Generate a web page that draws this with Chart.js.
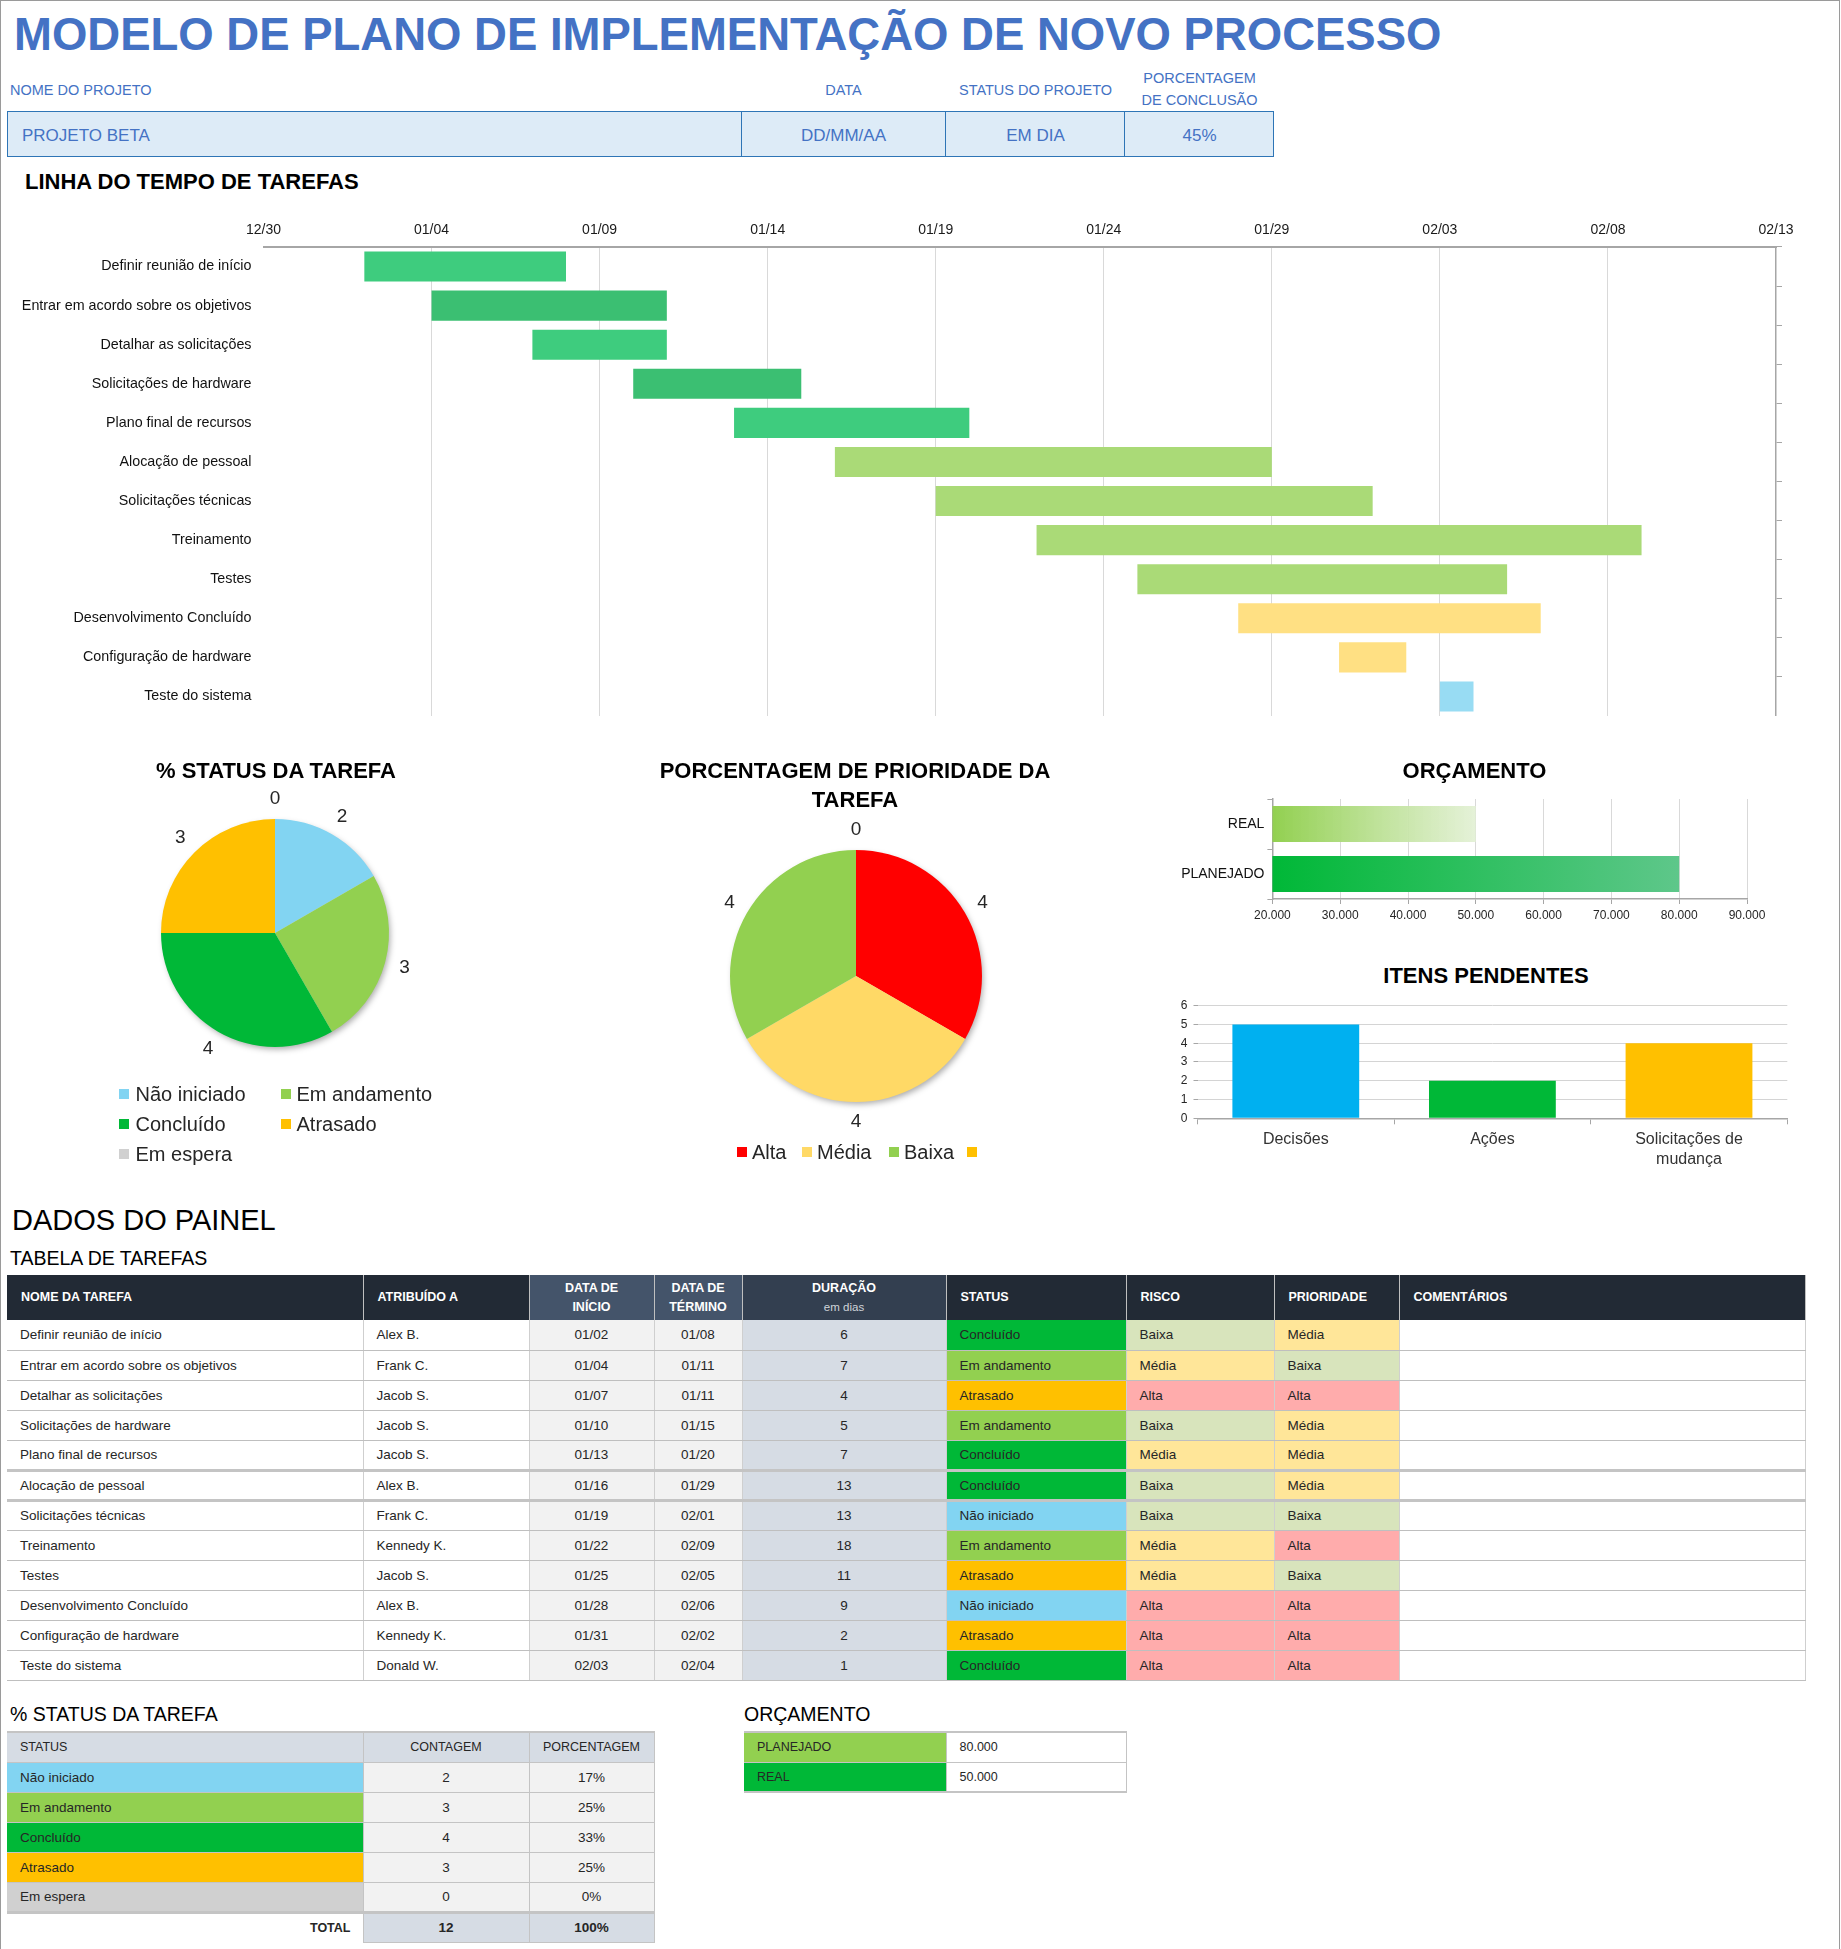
<!DOCTYPE html>
<html lang="pt">
<head>
<meta charset="utf-8">
<script src="https://cdn.jsdelivr.net/npm/chart.js@4.4.1/dist/chart.umd.min.js"></script>
<style>
  html,body{margin:0;padding:0;background:#fff;}
  body{width:1841px;height:1949px;position:relative;overflow:hidden;font-family:"Liberation Sans",Arial,sans-serif;}
  .frame{position:absolute;left:0;top:0;width:1838px;height:1960px;border:1px solid #9a9a9a;border-bottom:none;}
  .t{position:absolute;line-height:1;white-space:nowrap;}
  canvas{position:absolute;}
  table{position:absolute;border-collapse:collapse;table-layout:fixed;font-family:"Liberation Sans",Arial,sans-serif;}
  td,th{box-sizing:border-box;overflow:hidden;white-space:nowrap;}
  #taskTable th{background:#222A35;color:#fff;font-weight:bold;font-size:12.5px;text-align:left;padding:0 0 0 14px;height:45px;border-right:1px solid #BFBFBF;line-height:1.45;}
  #taskTable th.c{text-align:center;padding:0;}
  #taskTable td{height:30px;font-size:13.5px;color:#262626;padding:0 0 0 13px;border-bottom:1px solid #BFBFBF;border-right:1px solid #CFCFCF;}
  #taskTable td.c{text-align:center;padding:0;}
  #taskTable tr.thick td{border-bottom:3px solid #C4C4C4;}
  #statTable td{height:30px;font-size:13.5px;color:#262626;border-bottom:1px solid #C4C4C4;border-right:1px solid #C4C4C4;padding:0 0 0 13px;}
  #statTable td.c{text-align:center;padding:0;}
  #budTable td{height:30px;font-size:13.5px;color:#262626;border-bottom:1px solid #C4C4C4;border-right:1px solid #C4C4C4;padding:0 0 0 13px;}
  .box{position:absolute;left:7px;top:111px;width:1267px;height:46px;box-sizing:border-box;background:#DDEBF7;border:1.5px solid #2E75B6;}
  .div{position:absolute;top:111px;width:1px;height:46px;background:#2E75B6;}
  .lg{position:absolute;width:10px;height:10px;}
</style>
</head>
<body>
<div class="frame"></div>

<canvas id="gantt" width="1841" height="516" style="left:0;top:200px;"></canvas>
<canvas id="pieStatus" width="348" height="348" style="left:101px;top:759px;"></canvas>
<canvas id="piePrio" width="372" height="372" style="left:670px;top:790px;"></canvas>
<canvas id="budget" width="640" height="150" style="left:1150px;top:790px;"></canvas>
<canvas id="pending" width="660" height="190" style="left:1150px;top:990px;"></canvas>

<div class="box"></div>
<div class="div" style="left:741px"></div>
<div class="div" style="left:945px"></div>
<div class="div" style="left:1124px"></div>

<div id="texts"></div>
<table id="taskTable" style="left:7px;top:1275px;width:1798px;"></table>
<table id="statTable" style="left:7px;top:1731px;width:647px;"></table>
<table id="budTable" style="left:744px;top:1731px;width:382px;"></table>

<script>
// ---------------- DATA ----------------
const tasks = ['Definir reunião de início','Entrar em acordo sobre os objetivos','Detalhar as solicitações','Solicitações de hardware','Plano final de recursos','Alocação de pessoal','Solicitações técnicas','Treinamento','Testes','Desenvolvimento Concluído','Configuração de hardware','Teste do sistema'];
const assigned = ['Alex B.','Frank C.','Jacob S.','Jacob S.','Jacob S.','Alex B.','Frank C.','Kennedy K.','Jacob S.','Alex B.','Kennedy K.','Donald W.'];
const startDates = ['01/02','01/04','01/07','01/10','01/13','01/16','01/19','01/22','01/25','01/28','01/31','02/03'];
const endDates = ['01/08','01/11','01/11','01/15','01/20','01/29','02/01','02/09','02/05','02/06','02/02','02/04'];
const durations = [6,7,4,5,7,13,13,18,11,9,2,1];
const taskStatus = ['Concluído','Em andamento','Atrasado','Em andamento','Concluído','Concluído','Não iniciado','Em andamento','Atrasado','Não iniciado','Atrasado','Concluído'];
const taskRisk = ['Baixa','Média','Alta','Baixa','Média','Baixa','Baixa','Média','Média','Alta','Alta','Alta'];
const taskPriority = ['Média','Baixa','Alta','Média','Média','Média','Baixa','Alta','Baixa','Alta','Alta','Alta'];
const ganttColors = ['#3ECC7E','#3BBF72','#3ECC7E','#3BBF72','#3ECC7E','#AADA77','#AADA77','#AADA77','#AADA77','#FFE083','#FFE083','#98DCF3'];
const timelineStart = '12/30';
const timelineEndDays = 45;

const statusLabels = ['Não iniciado','Em andamento','Concluído','Atrasado','Em espera'];
const statusCounts = [2,3,4,3,0];
const statusPct = ['17%','25%','33%','25%','0%'];
const statusColors = ['#82D4F2','#92D050','#00B837','#FFC000','#D0D0D0'];
const statusTotal = ['12','100%'];

const prioLabels = ['Alta','Média','Baixa',''];
const prioCounts = [4,4,4,0];
const prioColors = ['#FF0000','#FFD966','#92D050','#FFC000'];

const budgetLabels = ['REAL','PLANEJADO'];
const budgetValues = [50000,80000];
const budgetGradFrom = ['#92D050','#00B837'];
const budgetGradTo = ['rgba(226,240,212,0.9)','#5EC78A'];
const budgetTableLabels = ['PLANEJADO','REAL'];
const budgetTableValues = ['80.000','50.000'];
const budgetTableColors = ['#92D050','#00B837'];

const pendingLabels = ['Decisões','Ações',['Solicitações de','mudança']];
const pendingValues = [5,2,4];
const pendingColors = ['#00B0F0','#00B837','#FFC000'];

const statusCellColor = {'Concluído':'#00B837','Em andamento':'#92D050','Atrasado':'#FFC000','Não iniciado':'#82D4F2','Em espera':'#D0D0D0'};
const levelColor = {'Baixa':'#D8E4BC','Média':'#FFE699','Alta':'#FFACAC'};

// ---------------- helpers ----------------
const FONT = '"Liberation Sans", Arial, sans-serif';
Chart.defaults.font.family = FONT;
Chart.defaults.animation = false;
function mdToUTC(md){ const [m,d]=md.split('/').map(Number); const y = m===12?2022:2023; return Date.UTC(y,m-1,d); }
const baseUTC = mdToUTC(timelineStart);
function dayIndex(md){ return Math.round((mdToUTC(md)-baseUTC)/864e5); }
function dayLabel(v){ const dt=new Date(baseUTC+v*864e5); return String(dt.getUTCMonth()+1).padStart(2,'0')+'/'+String(dt.getUTCDate()).padStart(2,'0'); }

const texts = document.getElementById('texts');
function txt(s,x,yc,fs,opt={}){
  const e=document.createElement('div'); e.className='t'; e.textContent=s;
  e.style.fontSize=fs+'px'; e.style.left=x+'px'; e.style.top=(yc-0.5*fs)+'px';
  e.style.fontWeight=opt.bold?'bold':'normal'; e.style.color=opt.color||'#000';
  if(opt.align==='center') e.style.transform='translateX(-50%)';
  if(opt.align==='right') e.style.transform='translateX(-100%)';
  texts.appendChild(e); return e;
}
function box(x,yc,color){ const e=document.createElement('div'); e.className='lg'; e.style.left=x+'px'; e.style.top=(yc-5)+'px'; e.style.background=color; texts.appendChild(e); }

// ---------------- header texts ----------------
const BLUE='#4472C4';
txt('MODELO DE PLANO DE IMPLEMENTAÇÃO DE NOVO PROCESSO',14,35,45.5,{bold:true,color:BLUE});
txt('NOME DO PROJETO',10,90,14.5,{color:BLUE});
txt('DATA',843.5,90,14.5,{color:BLUE,align:'center'});
txt('STATUS DO PROJETO',1035.5,90,14.5,{color:BLUE,align:'center'});
txt('PORCENTAGEM',1199.5,78,14.5,{color:BLUE,align:'center'});
txt('DE CONCLUSÃO',1199.5,100,14.5,{color:BLUE,align:'center'});
txt('PROJETO BETA',22,135,17,{color:BLUE});
txt('DD/MM/AA',843.5,135,17,{color:BLUE,align:'center'});
txt('EM DIA',1035.5,135,17,{color:BLUE,align:'center'});
txt('45%',1199.5,135,17,{color:BLUE,align:'center'});

txt('LINHA DO TEMPO DE TAREFAS',25,181.5,22,{bold:true});
txt('% STATUS DA TAREFA',276,771,22,{bold:true,align:'center'});
txt('PORCENTAGEM DE PRIORIDADE DA',855,771,22,{bold:true,align:'center'});
txt('TAREFA',855,800,22,{bold:true,align:'center'});
txt('ORÇAMENTO',1474.5,771,22,{bold:true,align:'center'});
txt('ITENS PENDENTES',1486,976,22,{bold:true,align:'center'});

// legends
const lgPos1 = [[119,135.5,1094],[281,296.5,1094],[119,135.5,1124],[281,296.5,1124],[119,135.5,1154]];
statusLabels.forEach((l,i)=>{ const p=lgPos1[i]; box(p[0],p[2],statusColors[i]); txt(l,p[1],p[2],20,{color:'#262626'}); });
const lgPos2 = [[737,752],[802,817],[889,904],[967,982]];
prioLabels.forEach((l,i)=>{ const p=lgPos2[i]; box(p[0],1152,prioColors[i]); if(l) txt(l,p[1],1152,20,{color:'#262626'}); });

txt('DADOS DO PAINEL',12,1220,29);
txt('TABELA DE TAREFAS',10,1259,19.5);
txt('% STATUS DA TAREFA',10,1715,19.5);
txt('ORÇAMENTO',744,1715,19.5);

// ---------------- plugins ----------------
const outLabels = {id:'outLabels', afterDatasetsDraw(chart,args,opts){
  const ctx=chart.ctx, meta=chart.getDatasetMeta(0), ds=chart.data.datasets[0];
  ctx.save(); ctx.font='19px '+FONT; ctx.fillStyle='#262626'; ctx.textAlign='center'; ctx.textBaseline='middle';
  meta.data.forEach((arc,i)=>{ const p=arc.getProps(['x','y','startAngle','endAngle','outerRadius']);
    const a=(p.startAngle+p.endAngle)/2, r=p.outerRadius+(opts.offset||20);
    ctx.fillText(String(ds.data[i]), p.x+Math.cos(a)*r, p.y+Math.sin(a)*r); });
  ctx.restore(); }};
const pieShadow = {id:'pieShadow', beforeDatasetsDraw(chart){
  const ctx=chart.ctx, arc=chart.getDatasetMeta(0).data[0]; if(!arc) return;
  const p=arc.getProps(['x','y','outerRadius']);
  ctx.save(); ctx.shadowColor='rgba(0,0,0,0.35)'; ctx.shadowBlur=6; ctx.shadowOffsetX=2; ctx.shadowOffsetY=3;
  ctx.beginPath(); ctx.arc(p.x,p.y,p.outerRadius-1,0,Math.PI*2); ctx.fillStyle='#ddd'; ctx.fill(); ctx.restore(); }};

// ---------------- Gantt ----------------
new Chart(document.getElementById('gantt'),{
  type:'bar',
  data:{labels:tasks,datasets:[{data:tasks.map((t,i)=>[dayIndex(startDates[i]),dayIndex(endDates[i])]),backgroundColor:ganttColors,borderWidth:0,barPercentage:0.77,categoryPercentage:1}]},
  options:{indexAxis:'y',responsive:false,animation:false,
    plugins:{legend:{display:false},tooltip:{enabled:false}},
    layout:{padding:{left:0,right:57,top:0,bottom:0}},
    scales:{
      x:{type:'linear',position:'top',min:0,max:timelineEndDays,
        ticks:{stepSize:5,callback:v=>dayLabel(v),font:{size:14},color:'#1a1a1a',padding:8},
        grid:{color:c=>(c.index===0||c.tick&&c.tick.value===timelineEndDays)?'rgba(0,0,0,0)':'#D9D9D9',drawTicks:false,lineWidth:1},
        border:{color:'#A6A6A6',width:2},
        afterFit:s=>{s.height=47;}},
      y:{position:'left',ticks:{font:{size:14.3},color:'#111',padding:4},grid:{display:false},border:{display:false},
        afterFit:s=>{s.width=263.5; s.paddingTop=0; s.paddingBottom=0;}},
      y2:{type:'category',position:'right',labels:tasks,ticks:{display:false},
        grid:{drawOnChartArea:false,offset:true,tickLength:6,color:'#A6A6A6'},border:{color:'#A6A6A6',width:1.5},
        afterFit:s=>{s.width=8; s.paddingTop=0; s.paddingBottom=0;}}
    }}
});

// ---------------- Pies ----------------
new Chart(document.getElementById('pieStatus'),{
  type:'pie',
  data:{labels:statusLabels,datasets:[{data:statusCounts,backgroundColor:statusColors,borderWidth:0}]},
  options:{responsive:false,animation:false,layout:{padding:60},plugins:{legend:{display:false},tooltip:{enabled:false},outLabels:{offset:20}}},
  plugins:[pieShadow,outLabels]
});
new Chart(document.getElementById('piePrio'),{
  type:'pie',
  data:{labels:prioLabels,datasets:[{data:prioCounts,backgroundColor:prioColors,borderWidth:0}]},
  options:{responsive:false,animation:false,layout:{padding:60},plugins:{legend:{display:false},tooltip:{enabled:false},outLabels:{offset:20}}},
  plugins:[pieShadow,outLabels]
});

// ---------------- Budget ----------------
function fmtThousands(v){ return String(v).replace(/\B(?=(\d{3})+(?!\d))/g,'.'); }
new Chart(document.getElementById('budget'),{
  type:'bar',
  data:{labels:budgetLabels,datasets:[{data:budgetValues,borderWidth:0,barPercentage:0.72,categoryPercentage:1,
    backgroundColor:c=>{ const ch=c.chart, xs=ch.scales.x; if(!ch.chartArea||!xs) return budgetGradFrom[c.dataIndex];
      const x0=xs.getPixelForValue(xs.min), x1=xs.getPixelForValue(budgetValues[c.dataIndex]);
      const g=ch.ctx.createLinearGradient(x0,0,x1,0); g.addColorStop(0,budgetGradFrom[c.dataIndex]); g.addColorStop(1,budgetGradTo[c.dataIndex]); return g; }}]},
  options:{indexAxis:'y',responsive:false,animation:false,
    plugins:{legend:{display:false},tooltip:{enabled:false}},
    layout:{padding:{left:0,right:43,top:9,bottom:0}},
    scales:{
      x:{min:20000,max:90000,ticks:{stepSize:10000,callback:v=>fmtThousands(v),font:{size:12},color:'#262626',padding:4},
        grid:{color:'#D9D9D9',tickLength:5,tickColor:'#A6A6A6'},border:{color:'#A6A6A6',width:1.5},afterFit:s=>{s.height=41;}},
      y:{ticks:{font:{size:14},color:'#111',padding:3},grid:{drawOnChartArea:false,offset:true,tickLength:5,color:'#A6A6A6'},
        border:{color:'#A6A6A6',width:1.5},afterFit:s=>{s.width=122.4; s.paddingTop=0; s.paddingBottom=0;}}
    }}
});

// ---------------- Pending ----------------
new Chart(document.getElementById('pending'),{
  type:'bar',
  data:{labels:pendingLabels,datasets:[{data:pendingValues,backgroundColor:pendingColors,borderWidth:0,barPercentage:0.645,categoryPercentage:1}]},
  options:{responsive:false,animation:false,
    plugins:{legend:{display:false},tooltip:{enabled:false}},
    layout:{padding:{left:0,right:22.7,top:15.7,bottom:0}},
    scales:{
      x:{ticks:{font:{size:16,lineHeight:1.25},color:'#333',padding:5},grid:{drawOnChartArea:false,offset:true,tickLength:6,color:'#A6A6A6'},
        border:{color:'#A6A6A6',width:1.5},afterFit:s=>{s.height=61.7;}},
      y:{min:0,max:6,ticks:{stepSize:1,font:{size:12},color:'#262626',padding:6},grid:{color:'#D4D4D4',tickLength:4,tickColor:'#A6A6A6'},
        border:{display:false},afterFit:s=>{s.width=47.5;}}
    }}
});

// ---------------- Task table ----------------
const colW=[356,166,125,88,204,180,148,125,406];
const tt=document.getElementById('taskTable');
let h='<colgroup>'+colW.map(w=>'<col style="width:'+w+'px">').join('')+'</colgroup>';
h+='<tr><th>NOME DA TAREFA</th><th>ATRIBUÍDO A</th><th class="c" style="background:#44546A">DATA DE<br>INÍCIO</th><th class="c" style="background:#44546A">DATA DE<br>TÉRMINO</th><th class="c" style="background:#333F50">DURAÇÃO<br><span style="font-weight:normal;font-size:11.5px;color:#D0D4DA">em dias</span></th><th>STATUS</th><th>RISCO</th><th>PRIORIDADE</th><th>COMENTÁRIOS</th></tr>';
tasks.forEach((t,i)=>{
  h+='<tr'+((i===4||i===5)?' class="thick"':'')+'><td>'+t+'</td><td>'+assigned[i]+'</td>'+
   '<td class="c" style="background:#F2F2F2">'+startDates[i]+'</td><td class="c" style="background:#F2F2F2">'+endDates[i]+'</td>'+
   '<td class="c" style="background:#D6DCE4">'+durations[i]+'</td>'+
   '<td style="background:'+statusCellColor[taskStatus[i]]+'">'+taskStatus[i]+'</td>'+
   '<td style="background:'+levelColor[taskRisk[i]]+'">'+taskRisk[i]+'</td>'+
   '<td style="background:'+levelColor[taskPriority[i]]+'">'+taskPriority[i]+'</td><td></td></tr>';
});
tt.innerHTML=h;

// ---------------- Status table ----------------
const st=document.getElementById('statTable');
let s='<colgroup><col style="width:356px"><col style="width:166px"><col style="width:125px"></colgroup>';
s+='<tr><td style="background:#D6DCE4;font-size:12.5px;height:29px;border-top:2px solid #C4C4C4">STATUS</td><td class="c" style="background:#D6DCE4;font-size:12.5px;border-top:2px solid #C4C4C4">CONTAGEM</td><td class="c" style="background:#D6DCE4;font-size:12.5px;border-top:2px solid #C4C4C4">PORCENTAGEM</td></tr>';
statusLabels.forEach((l,i)=>{
  s+='<tr><td style="background:'+statusColors[i]+(i===4?';border-bottom:3px solid #C4C4C4':'')+'">'+l+'</td><td class="c" style="background:#F2F2F2'+(i===4?';border-bottom:3px solid #C4C4C4':'')+'">'+statusCounts[i]+'</td><td class="c" style="background:#F2F2F2'+(i===4?';border-bottom:3px solid #C4C4C4':'')+'">'+statusPct[i]+'</td></tr>';
});
s+='<tr><td style="text-align:right;font-weight:bold;font-size:12.5px;padding-right:12px;border-bottom:none;border-right:1px solid #C4C4C4">TOTAL</td><td class="c" style="background:#D6DCE4;font-weight:bold">'+statusTotal[0]+'</td><td class="c" style="background:#D6DCE4;font-weight:bold">'+statusTotal[1]+'</td></tr>';
st.innerHTML=s;

// ---------------- Budget table ----------------
const bt=document.getElementById('budTable');
let b='<colgroup><col style="width:202px"><col style="width:180px"></colgroup>';
budgetTableLabels.forEach((l,i)=>{
  b+='<tr><td style="background:'+budgetTableColors[i]+';font-size:12.5px'+(i===0?';border-top:2px solid #C4C4C4':';border-bottom:2px solid #C4C4C4')+'">'+l+'</td><td style="font-size:12.5px'+(i===0?';border-top:2px solid #C4C4C4':';border-bottom:2px solid #C4C4C4')+'">'+budgetTableValues[i]+'</td></tr>';
});
bt.innerHTML=b;
</script>
</body>
</html>
